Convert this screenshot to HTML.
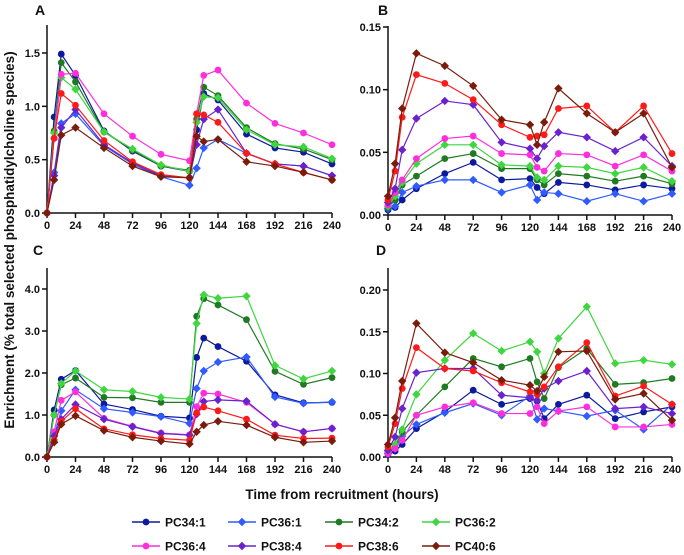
<!DOCTYPE html>
<html><head><meta charset="utf-8"><style>
html,body{margin:0;padding:0;background:#fff;}
svg{display:block;font-family:"Liberation Sans",Arial,sans-serif;}
</style></head><body>
<svg id="chart" width="684" height="555" viewBox="0 0 684 555" xmlns="http://www.w3.org/2000/svg"></svg>
<script>
const times=[0,6,12,24,48,72,96,120,126,132,144,168,192,216,240];
const seriesNames=["PC34:1","PC36:1","PC34:2","PC36:2","PC36:4","PC38:4","PC38:6","PC40:6"];
const colors=["#0b1a9e","#2f5bff","#1f7a22","#3fd640","#ff2edc","#6a22cf","#ff1a1a","#7a1c0c"];
const markers=["circle","diamond","circle","diamond","circle","diamond","circle","diamond"];
const xTicks=[0,24,48,72,96,120,144,168,192,216,240];
const dataA=[
[0,0.9,1.49,1.29,0.77,0.58,0.44,0.39,0.78,1.12,1.06,0.74,0.61,0.57,0.46],
[0,0.38,0.84,0.93,0.63,0.46,0.34,0.26,0.42,0.61,0.69,0.56,0.46,0.44,0.35],
[0,0.77,1.41,1.23,0.76,0.59,0.44,0.40,0.88,1.18,1.10,0.80,0.65,0.60,0.50],
[0,0.75,1.27,1.16,0.76,0.60,0.45,0.39,0.85,1.09,1.08,0.78,0.64,0.62,0.51],
[0,0.70,1.30,1.31,0.93,0.72,0.55,0.49,0.93,1.29,1.34,1.03,0.84,0.75,0.64],
[0,0.35,0.80,0.97,0.64,0.47,0.35,0.33,0.64,0.88,0.97,0.56,0.46,0.44,0.35],
[0,0.70,1.12,1.01,0.68,0.48,0.36,0.33,0.93,0.92,0.85,0.56,0.46,0.38,0.31],
[0,0.31,0.73,0.80,0.61,0.44,0.34,0.33,0.72,0.67,0.69,0.48,0.44,0.38,0.31]];
const dataB=[
[0.004,0.006,0.012,0.021,0.033,0.042,0.028,0.029,0.022,0.017,0.026,0.024,0.020,0.024,0.021],
[0.005,0.007,0.018,0.023,0.028,0.028,0.018,0.024,0.012,0.018,0.017,0.011,0.017,0.011,0.017],
[0.006,0.012,0.024,0.031,0.045,0.049,0.037,0.037,0.028,0.024,0.033,0.031,0.027,0.031,0.025],
[0.007,0.015,0.026,0.041,0.056,0.056,0.040,0.039,0.030,0.028,0.039,0.038,0.033,0.038,0.027],
[0.008,0.018,0.028,0.045,0.061,0.063,0.049,0.048,0.038,0.035,0.049,0.048,0.039,0.048,0.035],
[0.010,0.021,0.052,0.077,0.091,0.088,0.058,0.053,0.045,0.055,0.066,0.062,0.051,0.062,0.039],
[0.012,0.035,0.078,0.112,0.105,0.092,0.072,0.062,0.063,0.064,0.085,0.087,0.066,0.087,0.049],
[0.015,0.041,0.085,0.129,0.119,0.103,0.076,0.072,0.056,0.074,0.101,0.081,0.066,0.081,0.038]];
const dataC=[
[0,1.12,1.85,2.06,1.26,1.13,0.97,0.93,2.37,2.83,2.63,2.28,1.48,1.29,1.30],
[0,0.5,1.1,1.6,1.15,1.06,0.96,0.80,1.63,2.05,2.26,2.38,1.43,1.28,1.31],
[0,1.0,1.72,1.88,1.42,1.41,1.30,1.30,3.35,3.77,3.62,3.27,2.04,1.73,1.89],
[0,1.0,1.75,2.05,1.60,1.56,1.42,1.38,3.18,3.86,3.78,3.83,2.18,1.86,2.05],
[0,0.6,1.35,1.55,0.92,0.73,0.57,0.53,1.20,1.52,1.50,1.30,0.78,0.60,0.68],
[0,0.5,0.9,1.25,0.90,0.72,0.56,0.52,1.02,1.32,1.36,1.33,0.78,0.60,0.68],
[0,0.4,0.85,1.15,0.67,0.53,0.44,0.40,1.05,1.19,1.10,0.90,0.52,0.44,0.45],
[0,0.35,0.78,0.98,0.63,0.47,0.38,0.31,0.60,0.76,0.85,0.76,0.47,0.35,0.38]];
const dataD=[
[0.003,0.007,0.015,0.034,0.054,0.080,0.063,0.070,0.067,0.046,0.063,0.074,0.046,0.054,0.060],
[0.004,0.010,0.025,0.039,0.053,0.064,0.050,0.073,0.045,0.058,0.055,0.049,0.056,0.033,0.063],
[0.005,0.012,0.030,0.050,0.084,0.118,0.108,0.118,0.090,0.070,0.107,0.130,0.087,0.089,0.094],
[0.006,0.015,0.033,0.075,0.116,0.148,0.127,0.138,0.126,0.100,0.142,0.180,0.112,0.116,0.111],
[0.004,0.010,0.020,0.050,0.060,0.065,0.052,0.052,0.060,0.040,0.055,0.060,0.036,0.036,0.039],
[0.008,0.024,0.058,0.101,0.106,0.106,0.074,0.071,0.068,0.082,0.091,0.103,0.058,0.060,0.052],
[0.012,0.040,0.082,0.131,0.106,0.103,0.089,0.078,0.075,0.084,0.108,0.137,0.073,0.085,0.063],
[0.015,0.047,0.091,0.160,0.125,0.113,0.092,0.086,0.079,0.096,0.126,0.127,0.069,0.076,0.044]];
const ticksA=[0,0.5,1.0,1.5], labelsA=["0.0","0.5","1.0","1.5"];
const ticksB=[0,0.05,0.10,0.15], labelsB=["0.00","0.05","0.10","0.15"];
const ticksC=[0,1,2,3,4], labelsC=["0.0","1.0","2.0","3.0","4.0"];
const ticksD=[0,0.05,0.10,0.15,0.20], labelsD=["0.00","0.05","0.10","0.15","0.20"];

const NS="http://www.w3.org/2000/svg";
const svg=document.getElementById('chart');
function mk(tag,attrs,parent,text){const e=document.createElementNS(NS,tag);for(const k in attrs)e.setAttribute(k,attrs[k]);if(text!==undefined)e.textContent=text;(parent||svg).appendChild(e);return e;}
function marker(g,type,x,y,c){
  let m;
  if(type==="circle"){m=mk('circle',{cx:x,cy:y,r:3.4,fill:c},g);}
  else{m=mk('polygon',{points:`${x},${y-4.2} ${x+4.2},${y} ${x},${y+4.2} ${x-4.2},${y}`,fill:c},g);}
  return m;
}
const panels=[
 {id:"a",label:"A",data:dataA,ticks:ticksA,labels:labelsA,x0:47,x1:332,y0:213,yRef:53,vRef:1.5,top:25,lx:35,ly:15},
 {id:"b",label:"B",data:dataB,ticks:ticksB,labels:labelsB,x0:388,x1:672,y0:215,yRef:27,vRef:0.15,top:26,lx:378,ly:15},
 {id:"c",label:"C",data:dataC,ticks:ticksC,labels:labelsC,x0:47,x1:332,y0:457,yRef:289,vRef:4,top:268,lx:33,ly:255},
 {id:"d",label:"D",data:dataD,ticks:ticksD,labels:labelsD,x0:388,x1:672,y0:457,yRef:290,vRef:0.2,top:268,lx:376,ly:255}];
panels.forEach(p=>{
  const g=mk('g',{});
  
  
  const xs=t=>p.x0+(t/240)*(p.x1-p.x0);
  const ys=v=>p.y0-(v/p.vRef)*(p.y0-p.yRef);
  const lab=mk('text',{x:p.lx,y:p.ly,'font-size':14,'font-weight':'bold',fill:'#111'},g,p.label);
  
  
  const ya=mk('line',{x1:p.x0,y1:p.top,x2:p.x0,y2:p.y0,stroke:'#111','stroke-width':1.5},g);
  
  
  const xa=mk('line',{x1:p.x0,y1:p.y0,x2:p.x1,y2:p.y0,stroke:'#111','stroke-width':1.5},g);
  
  
  p.ticks.forEach((v,i)=>{
    mk('line',{x1:p.x0-5,y1:ys(v),x2:p.x0,y2:ys(v),stroke:'#111','stroke-width':1.5},g);
    const t=mk('text',{x:p.x0-7,y:ys(v)+4,'text-anchor':'end','font-size':11,'font-weight':'bold',fill:'#111'},g,p.labels[i]);
    
    
  });
  xTicks.forEach(v=>{
    mk('line',{x1:xs(v),y1:p.y0,x2:xs(v),y2:p.y0+5,stroke:'#111','stroke-width':1.5},g);
    const t=mk('text',{x:xs(v),y:p.y0+16,'text-anchor':'middle','font-size':11,'font-weight':'bold',fill:'#111'},g,String(v));
    
    
  });
  p.data.forEach((vals,si)=>{
    const sg=mk('g',{},g);
    
    
    const pts=vals.map((v,i)=>xs(times[i])+','+ys(v)).join(' ');
    mk('polyline',{points:pts,fill:'none',stroke:colors[si],'stroke-width':1.2},sg);
    vals.forEach((v,i)=>{
      const m=marker(sg,markers[si],xs(times[i]),ys(v),colors[si]);
      
      
    });
  });
});
const yt=mk('text',{x:0,y:0,transform:'translate(14,240) rotate(-90)','text-anchor':'middle','font-size':13.5,'font-weight':'bold',fill:'#111'},svg,'Enrichment (% total selected phosphatidylcholine species)');


const xt=mk('text',{x:342,y:499,'text-anchor':'middle','font-size':13.5,'font-weight':'bold',fill:'#111'},svg,'Time from recruitment (hours)');


const leg=mk('g',{});


const legX=[132,228,325,422];
seriesNames.forEach((n,i)=>{
  const x=legX[i%4], y=i<4?522:546;
  const e=mk('g',{},leg);
  
  
  mk('line',{x1:x,y1:y,x2:x+28,y2:y,stroke:colors[i],'stroke-width':1.5},e);
  marker(e,markers[i],x+14,y,colors[i]);
  mk('text',{x:x+33,y:y+4.5,'font-size':12,'font-weight':'bold',fill:'#111'},e,n);
});
</script>
</body></html>
